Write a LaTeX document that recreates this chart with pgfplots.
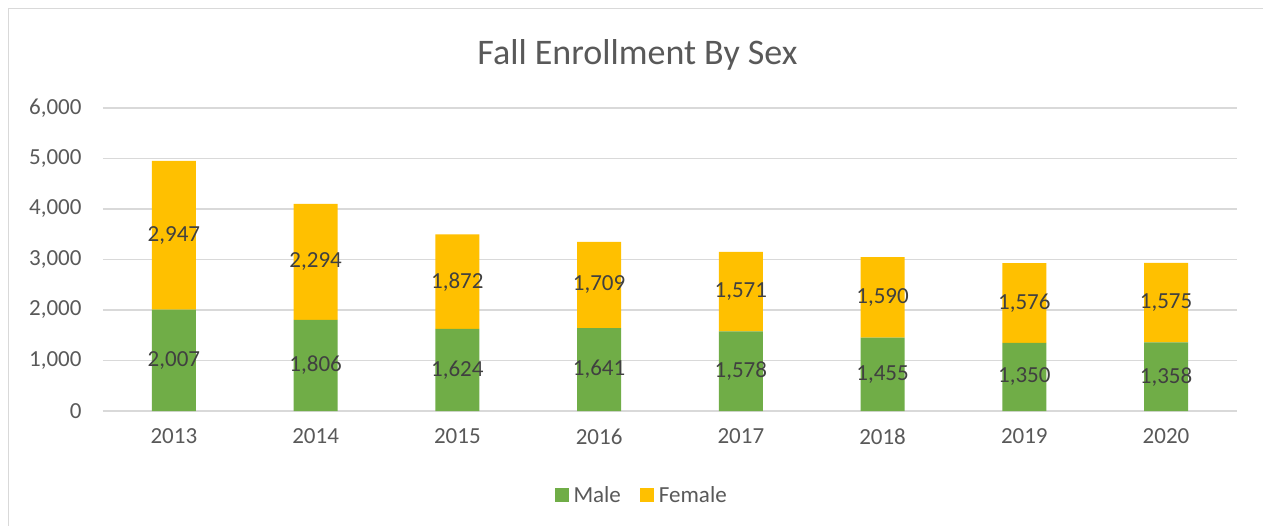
\documentclass[border=0pt]{standalone}
\usepackage{pgfplots}
\pgfplotsset{compat=1.18}
\usepackage{pgfplotstable}
\usepackage{fontspec}
\setmainfont{Carlito}
\definecolor{male}{HTML}{70AD47}
\definecolor{female}{HTML}{FFC000}
\definecolor{gridc}{HTML}{D9D9D9}
\definecolor{txt}{HTML}{595959}
\definecolor{lbl}{HTML}{404040}
\pgfplotstableread{
x year male female
0 2013 2007 2947
1 2014 1806 2294
2 2015 1624 1872
3 2016 1641 1709
4 2017 1578 1571
5 2018 1455 1590
6 2019 1350 1576
7 2020 1358 1575
}\data
\begin{document}
\begin{tikzpicture}[x=1pt,y=1pt]
\useasboundingbox (0,0) rectangle (1263,525);
\fill[white] (0,0) rectangle (1263,525);
\draw[gridc, line width=1.3pt] (8.5,516.5) rectangle (1320,-30);
\node[font=\fontsize{36}{40}\selectfont, text=txt] at (637.5,470) {Fall Enrollment By Sex};
\pgfplotsset{commonax/.style={
  width=1134pt, height=303pt, scale only axis,
  at={(103pt,114pt)}, anchor=south west,
  xmin=-0.5, xmax=7.5, ymin=0, ymax=6000,
  /pgf/number format/assume math mode=true,
  /pgf/number format/1000 sep={,},
}}
\begin{axis}[commonax,
  ybar stacked, bar width=44pt,
  axis x line*=bottom, axis y line*=left,
  x axis line style={gridc, line width=1.2pt},
  y axis line style={draw=none},
  ymajorgrids, grid style={gridc, line width=1.2pt},
  ytick={0,1000,...,6000}, xtick=data,
  xticklabels={2013,2014,2015,2016,2017,2018,2019,2020},
  major tick length=0pt,
  ticklabel style={font=\fontsize{23}{27}\selectfont, text=txt},
  yticklabel style={xshift=-18pt},
  xticklabel style={yshift=-14pt},
  legend style={draw=none, fill=none, at={(0.475,-0.277)}, anchor=center,
    legend columns=2, font=\fontsize{23}{27}\selectfont, text=txt,
    /tikz/every odd column/.append style={column sep=3pt},
    /tikz/every even column/.append style={column sep=17pt}},
  legend image code/.code={\fill[#1] (0pt,-7pt) rectangle (14pt,7pt);},
  clip=false,
]
\addplot[fill=male, draw=none] table[x=x, y=male] {\data};
\addlegendentry{Male}
\addplot[fill=female, draw=none] table[x=x, y=female] {\data};
\addlegendentry{Female}
\end{axis}
\begin{axis}[commonax, hide axis, clip=false,
  nodes near coords, point meta=explicit,
  every node near coord/.append style={anchor=center, font=\fontsize{23}{27}\selectfont, text=lbl},
]
\addplot[draw=none, mark=none] table[x=x, y expr=\thisrow{male}/2, meta=male] {\data};
\addplot[draw=none, mark=none] table[x=x, y expr=\thisrow{male}+\thisrow{female}/2, meta=female] {\data};
\end{axis}
\end{tikzpicture}
\end{document}
